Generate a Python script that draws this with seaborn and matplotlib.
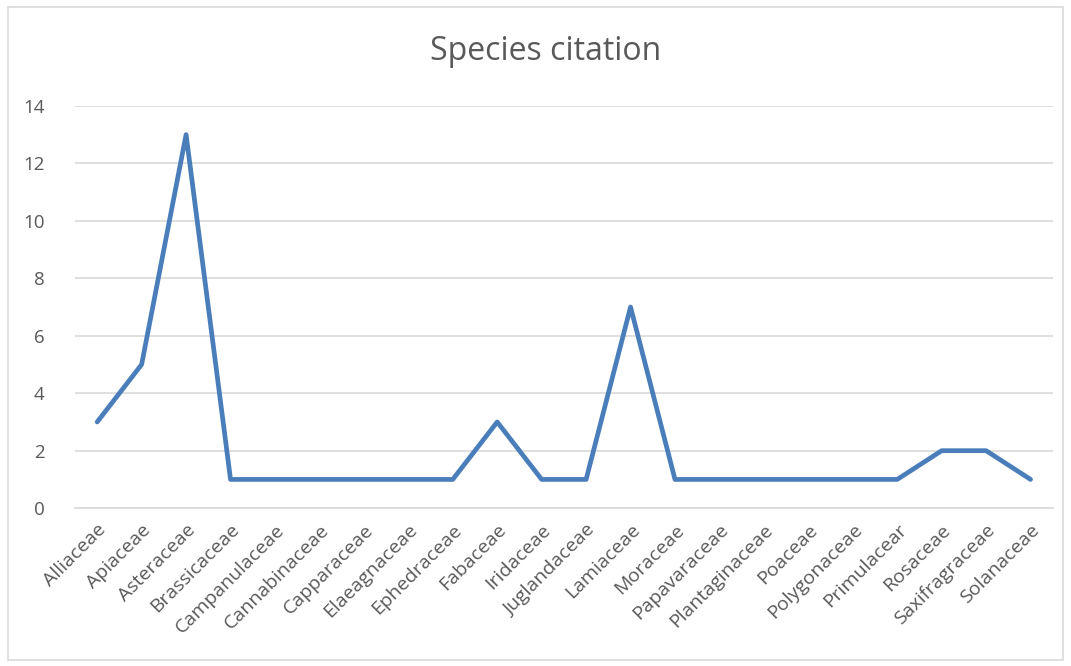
import matplotlib
matplotlib.use("Agg")
import matplotlib.pyplot as plt
from matplotlib.patches import Rectangle
import seaborn as sns
import pandas as pd

families = ["Alliaceae", "Apiaceae", "Asteraceae", "Brassicaceae", "Campanulaceae",
            "Cannabinaceae", "Capparaceae", "Elaeagnaceae", "Ephedraceae", "Fabaceae",
            "Iridaceae", "Juglandaceae", "Lamiaceae", "Moraceae", "Papavaraceae",
            "Plantaginaceae", "Poaceae", "Polygonaceae", "Primulacear", "Rosaceae",
            "Saxifragraceae", "Solanaceae"]
citations = [3, 5, 13, 1, 1, 1, 1, 1, 1, 3, 1, 1, 7, 1, 1, 1, 1, 1, 1, 2, 2, 1]
y_ticks = [0, 2, 4, 6, 8, 10, 12, 14]

sns.set_theme(style="white")
plt.rcParams["font.family"] = ["Open Sans", "DejaVu Sans"]

df = pd.DataFrame({"family": families, "citations": citations,
                   "pos": range(len(families))})

fig = plt.figure(figsize=(10.71, 6.66), dpi=100)
ax = fig.add_axes([0.070, 0.237, 0.913, 0.604])

sns.lineplot(data=df, x="pos", y="citations", ax=ax, color="#4A7EBB",
             linewidth=3.4, solid_capstyle="round", solid_joinstyle="round")

ax.set_xlim(-0.5, len(families) - 0.5)
ax.set_ylim(0, 14)
ax.set_yticks(y_ticks)
ax.set_yticklabels([str(t) for t in y_ticks], color="#595959", fontsize=13.5)
ax.set_xticks(range(len(families)))
ax.set_xticklabels(families, rotation=45, ha="right", rotation_mode="anchor",
                   color="#595959", fontsize=14)
ax.tick_params(axis="x", length=0, pad=9)
ax.tick_params(axis="y", length=0, pad=22)
ax.grid(axis="y", color="#D9D9D9", linewidth=1.2)
ax.set_axisbelow(True)
for side in ["top", "right", "left"]:
    ax.spines[side].set_visible(False)
ax.spines["bottom"].set_color("#D9D9D9")
ax.spines["bottom"].set_linewidth(1.2)
ax.set_xlabel("")
ax.set_ylabel("")

fig.text(0.509, 0.923, "Species citation", ha="center", va="center",
         fontsize=23, color="#595959")

# chart frame
fig.patches.append(Rectangle((0.0075, 0.009), 0.985, 0.981, transform=fig.transFigure,
                             fill=False, edgecolor="#D9D9D9", linewidth=1.2))

fig.savefig("out.png", dpi=100)
